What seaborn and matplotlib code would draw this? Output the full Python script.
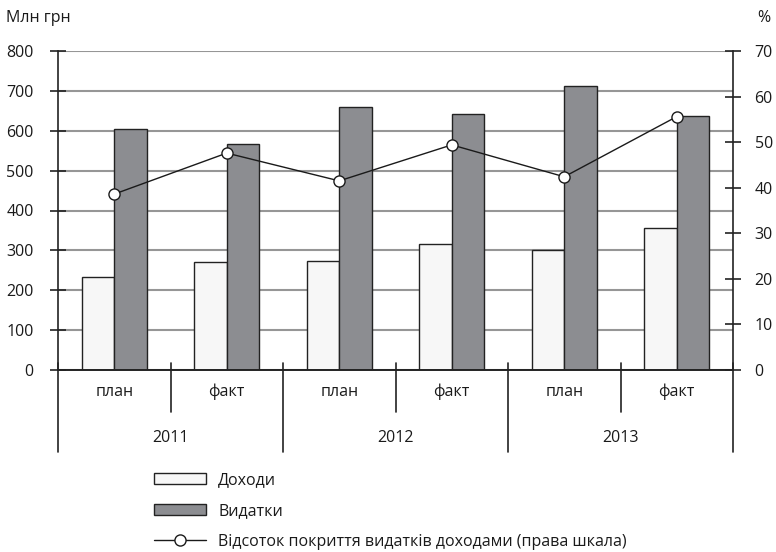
import numpy as np
import pandas as pd
import matplotlib
matplotlib.use("Agg")
import matplotlib.pyplot as plt
import matplotlib.transforms as mtransforms
from matplotlib.patches import Patch
from matplotlib.lines import Line2D
import seaborn as sns

# Budget data, million UAH, plan vs actual by year
years = ["2011", "2012", "2013"]
stages = ["план", "факт"]
income = [233, 270, 274, 317, 302, 355]
expenses = [604, 567, 660, 642, 713, 638]
coverage_pct = [38.6, 47.6, 41.5, 49.4, 42.4, 55.6]
left_ticks = [0, 100, 200, 300, 400, 500, 600, 700, 800]
right_ticks = [0, 10, 20, 30, 40, 50, 60, 70]
series_names = ["Доходи", "Видатки"]
line_name = "Відсоток покриття видатків доходами (права шкала)"

sns.set_theme(style="white")
plt.rcParams["font.family"] = ["Open Sans", "DejaVu Sans"]
FS = 11.5
TXT = "#1a1a1a"

cats = [f"{y} {s}" for y in years for s in stages]
df = pd.DataFrame({
    "cat": cats * 2,
    "series": [series_names[0]] * len(cats) + [series_names[1]] * len(cats),
    "value": income + expenses,
})

fig = plt.figure(figsize=(7.76, 5.52), dpi=100)
ax = fig.add_axes([58 / 776, 1 - 370 / 552, (733 - 58) / 776, (370 - 51) / 552])

sns.barplot(data=df, x="cat", y="value", hue="series", order=cats,
            hue_order=series_names, palette=["#f7f7f7", "#8c8d91"],
            width=0.58, gap=0, edgecolor="#222222", linewidth=1.0,
            saturation=1, legend=False, ax=ax)

ax.set_xlim(-0.5, len(cats) - 0.5)
ax.set_ylim(0, 800)
ax.set_yticks(left_ticks)
ax.set_axisbelow(True)
ax.yaxis.grid(True, color="#969696", linewidth=1.5)
ax.set_xlabel("")
ax.set_ylabel("")
ax.set_xticks([])
for s in ["top", "right"]:
    ax.spines[s].set_visible(False)
ax.spines["left"].set_color("#222222")
ax.spines["left"].set_linewidth(1.2)
ax.spines["bottom"].set_color("#222222")
ax.spines["bottom"].set_linewidth(1.4)
ax.tick_params(axis="y", direction="inout", length=11, width=1.2,
               color="#222222", pad=12, labelsize=FS, labelcolor=TXT, left=True)

ax2 = ax.twinx()
x_pos = np.arange(len(cats))
sns.lineplot(x=x_pos, y=coverage_pct, ax=ax2, color="#1a1a1a", linewidth=1.0,
             marker="o", markersize=8, markerfacecolor="white",
             markeredgecolor="#1a1a1a", markeredgewidth=1.0, zorder=5)
ax2.set_ylim(0, 70)
ax2.set_yticks(right_ticks)
ax2.set_xlim(-0.5, len(cats) - 0.5)
ax2.grid(False)
for s in ["top", "left", "bottom"]:
    ax2.spines[s].set_visible(False)
ax2.spines["right"].set_color("#222222")
ax2.spines["right"].set_linewidth(1.2)
ax2.tick_params(axis="y", direction="inout", length=11, width=1.2,
                color="#222222", pad=10, labelsize=FS, labelcolor=TXT, right=True)
ax2.set_ylabel("")

# Two-level category axis drawn below the bars
trans = mtransforms.blended_transform_factory(ax.transData, ax.transAxes)
h_ax = 370 - 51
short_bottom = -(412 - 370) / h_ax
long_bottom = -(452 - 370) / h_ax
tick_top = 7 / h_ax
for i in range(len(cats) + 1):
    xb = i - 0.5
    bottom = long_bottom if i % 2 == 0 else short_bottom
    ax.plot([xb, xb], [tick_top, bottom], transform=trans, color="#222222",
            linewidth=1.2, clip_on=False, zorder=6)
for i, c in enumerate(cats):
    ax.text(i, -(392 - 370) / h_ax, stages[i % 2], transform=trans,
            ha="center", va="center", fontsize=FS, color=TXT)
for j, y in enumerate(years):
    ax.text(2 * j + 0.5, -(438 - 370) / h_ax, y, transform=trans,
            ha="center", va="center", fontsize=FS, color=TXT)

fig.text(6 / 776, 1 - 18 / 552, "Млн грн", ha="left", va="center",
         fontsize=FS, color=TXT)
fig.text(764 / 776, 1 - 18 / 552, "%", ha="center", va="center",
         fontsize=FS, color=TXT)

handles = [
    Patch(facecolor="#f7f7f7", edgecolor="#222222", linewidth=1.0),
    Patch(facecolor="#8c8d91", edgecolor="#222222", linewidth=1.0),
    Line2D([0], [0], color="#1a1a1a", linewidth=1.0, marker="o", markersize=8,
           markerfacecolor="white", markeredgecolor="#1a1a1a"),
]
fig.legend(handles, series_names + [line_name], loc="upper left",
           bbox_to_anchor=(148 / 776, 1 - 466 / 552), frameon=False,
           fontsize=FS, handlelength=3.2, handleheight=0.7, handletextpad=0.8,
           labelspacing=0.92, labelcolor=TXT, borderaxespad=0)

fig.savefig("out.png", dpi=100, facecolor="white")
